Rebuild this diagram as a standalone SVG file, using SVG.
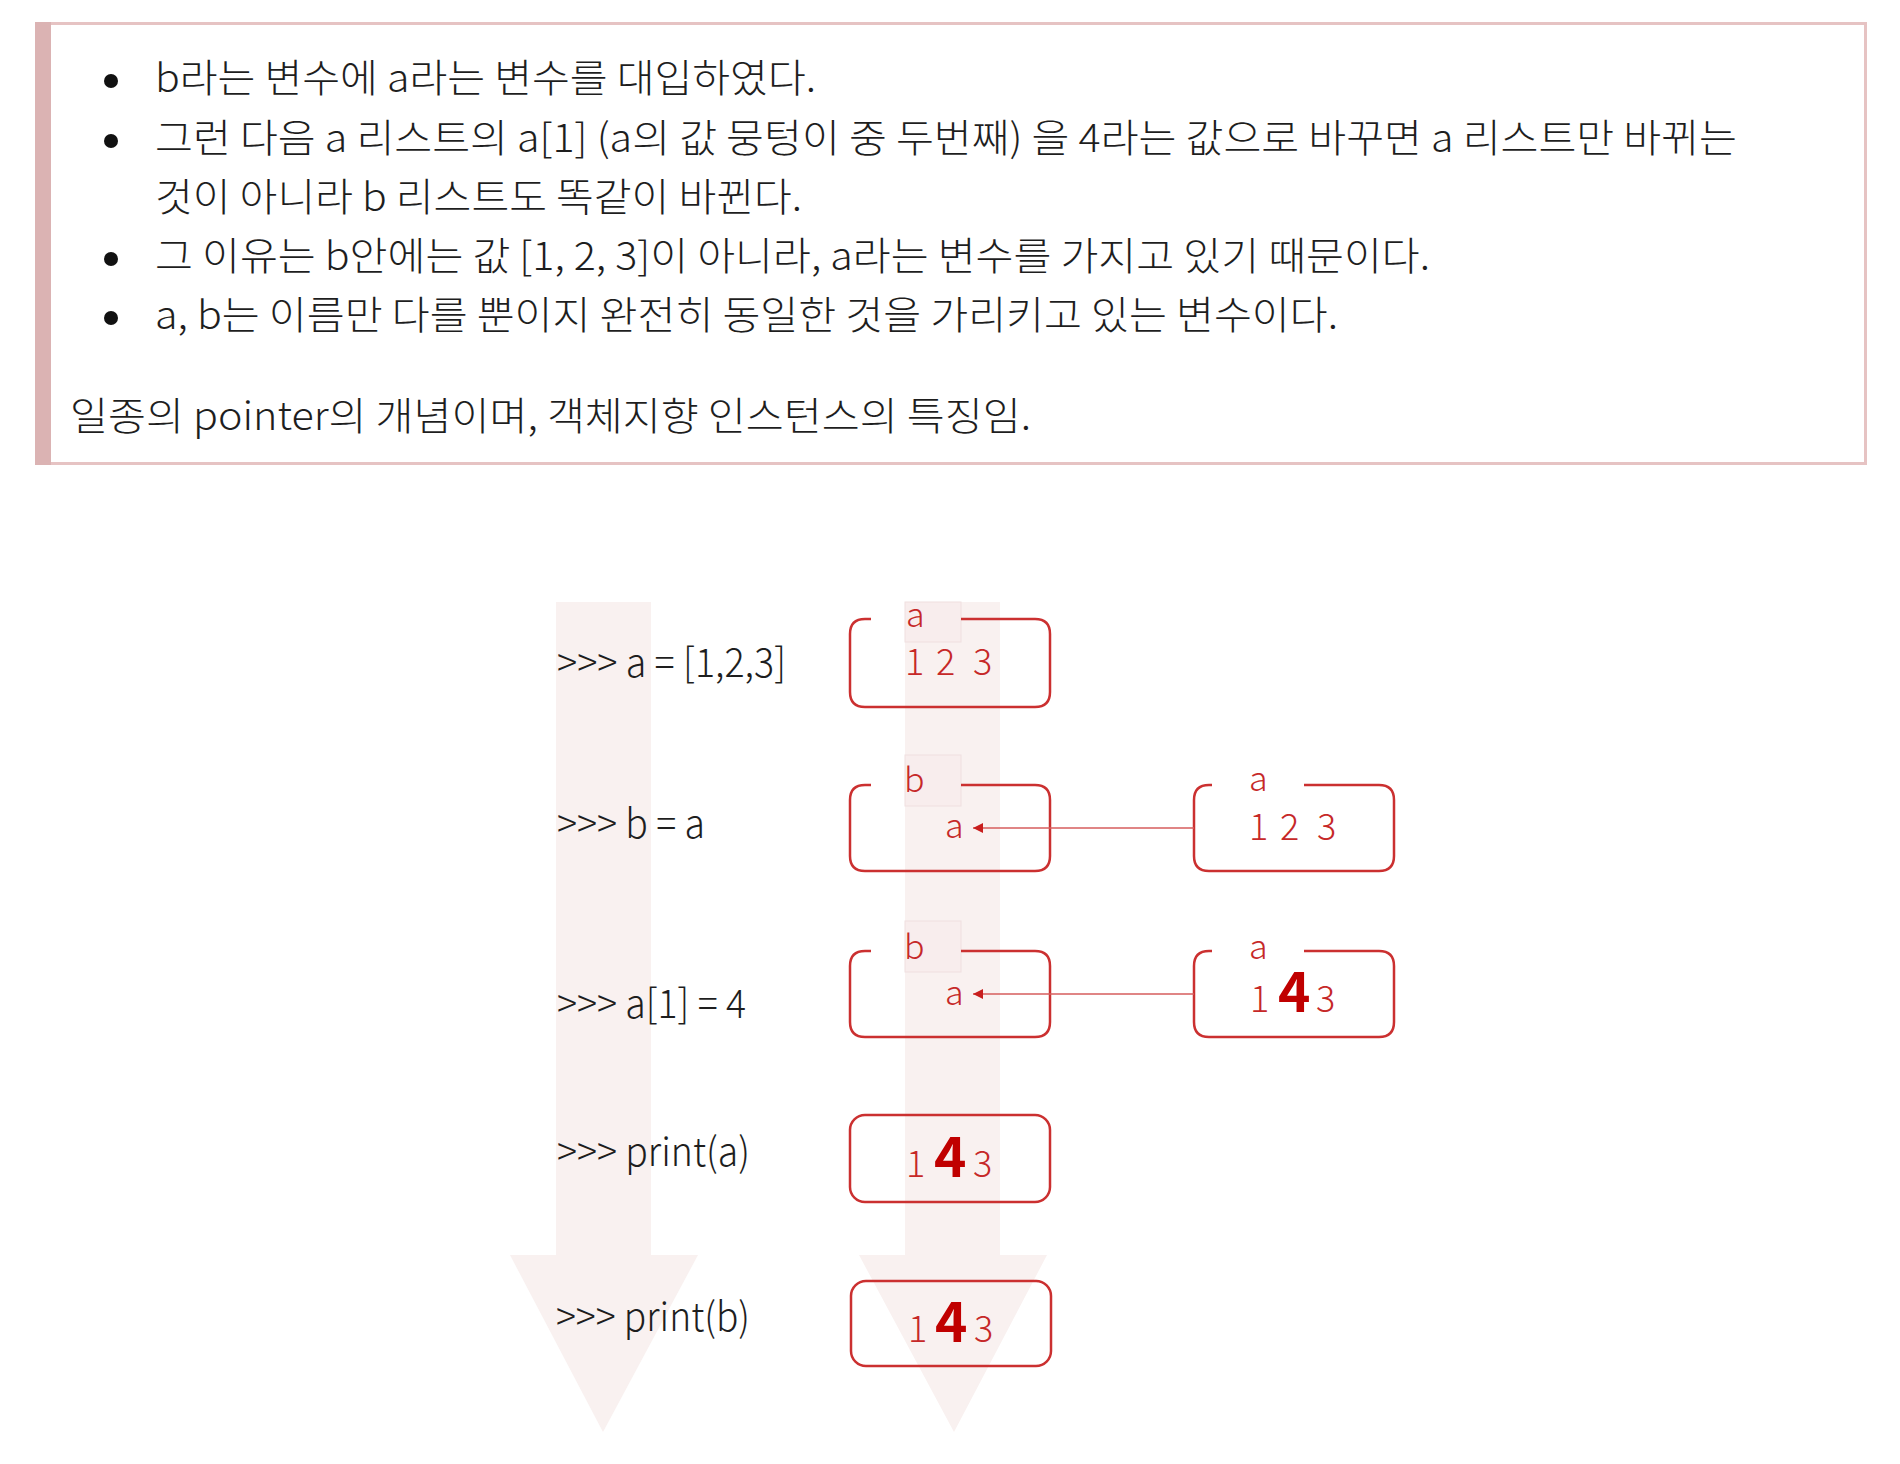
<svg xmlns="http://www.w3.org/2000/svg" width="1900" height="1464" viewBox="0 0 1900 1464">
<defs>
<style>
.note{font-family:"Noto Sans CJK KR","Noto Sans",sans-serif;font-size:39px;font-weight:300;fill:#1e1e1e}
.code{font-family:"Noto Sans CJK KR","Noto Sans",sans-serif;font-size:40px;font-weight:300;fill:#1e1e1e}
.red{font-family:"Noto Sans CJK KR","Noto Sans",sans-serif;font-size:36px;font-weight:300;fill:#c62828}
.lbl{font-family:"Noto Sans CJK KR","Noto Sans",sans-serif;font-size:34px;font-weight:300;fill:#c62828}
.big{font-family:"Noto Sans CJK KR","Noto Sans",sans-serif;font-size:55px;font-weight:700;fill:#c00000}
.box{fill:none;stroke:#cb3030;stroke-width:2.5}
.tag{fill:#f8eded;stroke:#f0dfdf;stroke-width:1}
.flow{fill:#f9f1f0}
.conn{stroke:#d65c5c;stroke-width:1.5;fill:none}
</style>
<marker id="ah" markerWidth="10" markerHeight="10" refX="10" refY="5" orient="auto" markerUnits="userSpaceOnUse">
<path d="M0,0 L10,5 L0,10 Z" fill="#c81e1e"/>
</marker>
</defs>
<rect width="1900" height="1464" fill="#ffffff"/>

<g id="note">
<rect x="36.5" y="23.5" width="1829" height="440" fill="#ffffff" stroke="#e6c3c3" stroke-width="3"/>
<rect x="35" y="22" width="16" height="443" fill="#dbb3b3"/>
<circle cx="111" cy="81" r="7" fill="#111"/>
<circle cx="111" cy="141" r="7" fill="#111"/>
<circle cx="111" cy="259" r="7" fill="#111"/>
<circle cx="111" cy="318" r="7" fill="#111"/>
<text class="note" x="155" y="92" textLength="661" lengthAdjust="spacingAndGlyphs">b라는 변수에 a라는 변수를 대입하였다.</text>
<text class="note" x="155" y="152" textLength="1582" lengthAdjust="spacingAndGlyphs">그런 다음 a 리스트의 a[1] (a의 값 뭉텅이 중 두번째) 을 4라는 값으로 바꾸면 a 리스트만 바뀌는</text>
<text class="note" x="155" y="211" textLength="647" lengthAdjust="spacingAndGlyphs">것이 아니라 b 리스트도 똑같이 바뀐다.</text>
<text class="note" x="155" y="270" textLength="1275" lengthAdjust="spacingAndGlyphs">그 이유는 b안에는 값 [1, 2, 3]이 아니라, a라는 변수를 가지고 있기 때문이다.</text>
<text class="note" x="155" y="329" textLength="1183" lengthAdjust="spacingAndGlyphs">a, b는 이름만 다를 뿐이지 완전히 동일한 것을 가리키고 있는 변수이다.</text>
<text class="note" x="70" y="430" textLength="961" lengthAdjust="spacingAndGlyphs">일종의 pointer의 개념이며, 객체지향 인스턴스의 특징임.</text>
</g>

<g id="flow-left">
<path class="flow" d="M556,602 H651 V1255 H698 L603,1432 L510,1255 H556 Z"/>
</g>
<g id="flow-right">
<path class="flow" d="M905,602 H1000 V1255 H1047 L954,1432 L859,1255 H905 Z"/>
</g>

<g id="code">
<text class="code" x="557" y="677" textLength="229" lengthAdjust="spacingAndGlyphs">&gt;&gt;&gt; a = [1,2,3]</text>
<text class="code" x="557" y="838" textLength="148" lengthAdjust="spacingAndGlyphs">&gt;&gt;&gt; b = a</text>
<text class="code" x="557" y="1018" textLength="189" lengthAdjust="spacingAndGlyphs">&gt;&gt;&gt; a[1] = 4</text>
<text class="code" x="557" y="1166" textLength="193" lengthAdjust="spacingAndGlyphs">&gt;&gt;&gt; print(a)</text>
<text class="code" x="556" y="1331" textLength="194" lengthAdjust="spacingAndGlyphs">&gt;&gt;&gt; print(b)</text>
</g>

<g id="box-a1">
<rect class="tag" x="905" y="602" width="56" height="40"/>
<path class="box" d="M871,619 H865 Q850,619 850,634 V692 Q850,707 865,707 H1035 Q1050,707 1050,692 V634 Q1050,619 1035,619 H961"/>
<text class="lbl" x="906" y="627">a</text>
<text class="red" x="905" y="675">1</text>
<text class="red" x="936" y="675">2</text>
<text class="red" x="973" y="675">3</text>
</g>

<g id="box-b2">
<rect class="tag" x="905" y="755" width="56" height="51"/>
<path class="box" d="M871,785 H865 Q850,785 850,800 V856 Q850,871 865,871 H1035 Q1050,871 1050,856 V800 Q1050,785 1035,785 H961"/>
<text class="lbl" x="904" y="792">b</text>
<text class="lbl" x="945" y="838">a</text>
</g>

<g id="box-a2">
<path class="box" d="M1212,785 H1209 Q1194,785 1194,800 V856 Q1194,871 1209,871 H1379 Q1394,871 1394,856 V800 Q1394,785 1379,785 H1304"/>
<text class="lbl" x="1249" y="791">a</text>
<text class="red" x="1249" y="840">1</text>
<text class="red" x="1280" y="840">2</text>
<text class="red" x="1317" y="840">3</text>
</g>

<g id="box-b3">
<rect class="tag" x="905" y="921" width="56" height="51"/>
<path class="box" d="M871,951 H865 Q850,951 850,966 V1022 Q850,1037 865,1037 H1035 Q1050,1037 1050,1022 V966 Q1050,951 1035,951 H961"/>
<text class="lbl" x="904" y="959">b</text>
<text class="lbl" x="945" y="1005">a</text>
</g>

<g id="box-a3">
<path class="box" d="M1212,951 H1209 Q1194,951 1194,966 V1022 Q1194,1037 1209,1037 H1379 Q1394,1037 1394,1022 V966 Q1394,951 1379,951 H1304"/>
<text class="lbl" x="1249" y="959">a</text>
<text class="red" x="1250" y="1012">1</text>
<text class="big" x="1278" y="1012">4</text>
<text class="red" x="1316" y="1012">3</text>
</g>

<g id="box-print-a">
<rect class="box" x="850" y="1115" width="200" height="87" rx="15"/>
<text class="red" x="906" y="1177">1</text>
<text class="big" x="934" y="1177">4</text>
<text class="red" x="973" y="1177">3</text>
</g>

<g id="box-print-b">
<rect class="box" x="851" y="1281" width="200" height="85" rx="15"/>
<text class="red" x="908" y="1342">1</text>
<text class="big" x="935" y="1342">4</text>
<text class="red" x="974" y="1342">3</text>
</g>

<g id="connectors">
<line class="conn" x1="1194" y1="828" x2="973" y2="828" marker-end="url(#ah)"/>
<line class="conn" x1="1194" y1="994" x2="973" y2="994" marker-end="url(#ah)"/>
</g>
</svg>
